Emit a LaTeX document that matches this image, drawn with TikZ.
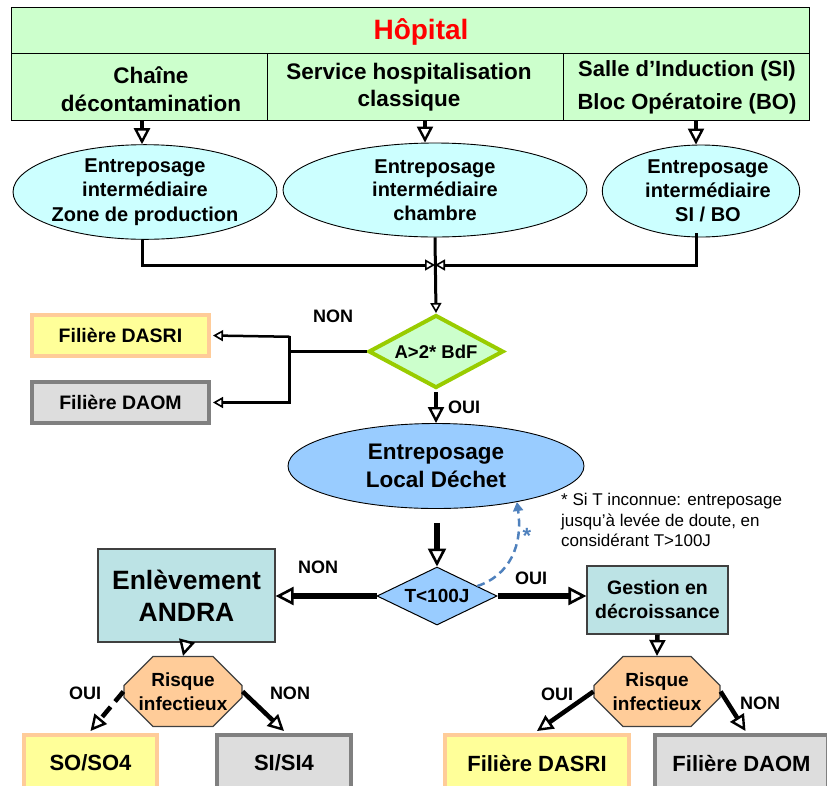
\documentclass[tikz,border=0pt]{standalone}
\usepackage{fontspec}
\setmainfont{Liberation Sans}
\usetikzlibrary{arrows.meta,shapes.geometric,shapes.misc,calc}
\definecolor{hgreen}{HTML}{CCFFCC}
\definecolor{hred}{HTML}{FF0000}
\definecolor{ecyan}{HTML}{CCFFFF}
\definecolor{dgreen}{HTML}{99CC00}
\definecolor{dyellow}{HTML}{FFFF99}
\definecolor{dorange}{HTML}{FFCC99}
\definecolor{dgray}{HTML}{DDDDDD}
\definecolor{dgrayb}{HTML}{808080}
\definecolor{lblue}{HTML}{99CCFF}
\definecolor{teal}{HTML}{BCE3E5}
\definecolor{dblue}{HTML}{4F81BD}
\begin{document}
\begin{tikzpicture}[x=1pt,y=-1pt,font=\bfseries,
  cellbox/.style={draw,fill=hgreen,line width=1pt,inner sep=0pt,minimum height=67pt},
  ell/.style={ellipse,draw,line width=0.9pt,inner sep=0pt,align=center},
  dasribox/.style={draw=dorange,fill=dyellow,line width=4pt,inner sep=0pt},
  daombox/.style={draw=dgrayb,fill=dgray,line width=4pt,inner sep=0pt},
  tealbox/.style={draw=black!75,fill=teal,line width=1.2pt,inner sep=0pt,align=center},
  octo/.style={chamfered rectangle,chamfered rectangle xsep=13pt,chamfered rectangle ysep=16pt,draw=black!75,fill=dorange,line width=1.2pt,inner sep=0pt,align=center,minimum height=51pt,font=\bfseries\fontsize{19}{24}\selectfont},
  lbl/.style={font=\bfseries\fontsize{18}{20}\selectfont,inner sep=0pt},
  harrow/.style={line width=4pt,-{Triangle[fill=white,width=16pt,length=16pt,line width=2.4pt]}},
  marrow/.style={line width=3pt,-{Triangle[fill=white,width=11pt,length=10pt,line width=1.6pt]}},
  mline/.style={line width=3pt},
  tarrow/.style={line width=5.5pt,-{Triangle[fill=white,width=18pt,length=18pt,line width=2.6pt]}},
  sarrow/.style={line width=4.5pt,-{Triangle[fill=white,width=16pt,length=16pt,line width=2.4pt]}},
  farrow/.style={line width=2.5pt,-{Triangle[fill=white,width=11pt,length=10pt,line width=1.6pt]}}
]
\useasboundingbox (0,0) rectangle (827,785);

% header
\node[draw,fill=hgreen,line width=1pt,minimum width=798pt,minimum height=46pt,inner sep=0pt] (hop) at (410,30) {};
\node[text=hred,font=\bfseries\fontsize{28}{32}\selectfont] (hopt) at (421,32) {Hôpital};
\node[cellbox,minimum width=256pt] (c1) at (139,86.5) {};
\node[cellbox,minimum width=296pt] (c2) at (415,86.5) {};
\node[cellbox,minimum width=246pt] (c3) at (686,86.5) {};
\node[align=center,font=\bfseries\fontsize{22.5}{28}\selectfont] (t1) at (151,89) {Chaîne\\décontamination};
\node[align=center,font=\bfseries\fontsize{22.5}{27}\selectfont] (t2) at (409,87) {Service hospitalisation\\classique};
\node[align=center,font=\bfseries\fontsize{22}{33}\selectfont] (t3) at (687,87) {Salle d’Induction (SI)\\Bloc Opératoire (BO)};

% intermediate storage
\node[ell,fill=ecyan,minimum width=242pt,minimum height=92pt,font=\bfseries\fontsize{20}{24.5}\selectfont] (e1) at (145,192) {Entreposage\\intermédiaire\\Zone de production};
\node[ell,fill=ecyan,minimum width=304pt,minimum height=94pt,font=\bfseries\fontsize{20}{23.5}\selectfont] (e2) at (435,190) {Entreposage\\intermédiaire\\chambre};
\node[ell,fill=ecyan,minimum width=184pt,minimum height=92pt,font=\bfseries\fontsize{20}{24}\selectfont] (e3) at (701,191) {\hspace*{14pt}Entreposage\\\hspace*{14pt}intermédiaire\\\hspace*{14pt}SI / BO};

\coordinate (a1) at ([xshift=-3pt]e1.north);
\coordinate (a2) at ([xshift=-10pt]e2.north);
\coordinate (a3) at ([xshift=-5pt]e3.north);
\draw[harrow] (c1.south -| a1) -- (a1);
\draw[harrow] (c2.south -| a2) -- (a2);
\draw[harrow] (c3.south -| a3) -- (a3);

% merge
\coordinate (jn) at (435,265);
\coordinate (b1) at ([xshift=-3pt]e1.south);
\coordinate (b3) at ([xshift=-5pt,yshift=4pt]e3.south);
\draw[marrow] (b1) |- (jn);
\draw[marrow] (b3) |- (jn);

% decision 1
\node[diamond,aspect=1.8,draw=dgreen,fill=hgreen,line width=4pt,minimum width=135pt,minimum height=73pt,inner sep=0pt,font=\bfseries\fontsize{18.5}{20}\selectfont] (d1) at (436,351.5) {A>2* BdF};
\draw[marrow] (e2.south) -- (d1.north);
\node[dasribox,minimum width=177pt,minimum height=41pt,font=\bfseries\fontsize{19.5}{22}\selectfont] (fd1) at (120.5,335.5) {Filière DASRI};
\node[daombox,minimum width=177pt,minimum height=41pt,font=\bfseries\fontsize{19.5}{22}\selectfont] (fa1) at (120.5,402.5) {Filière DAOM};
\coordinate (sp) at ($(d1.west)+(-77,0)$);
\draw[mline] (d1.west) -- (sp);
\draw[farrow] ([yshift=-1.25pt]sp |- fd1.east) -- ([xshift=2pt]fd1.east);
\draw[farrow] (sp |- fd1.east) -- (sp |- fa1.east) -- ([xshift=2pt]fa1.east);
\node[lbl] (non1) at (333,316) {NON};

% local dechet
\node[ell,fill=lblue,minimum width=296pt,minimum height=85pt,font=\bfseries\fontsize{22.5}{28}\selectfont] (led) at (436,466) {Entreposage\\Local Déchet};
\draw[sarrow] ([yshift=-2pt]d1.south) -- (led.north);
\node[lbl] (oui1) at (464,407) {OUI};

\node[font=\fontsize{17}{20.5}\selectfont\mdseries,align=left,anchor=west,inner sep=0pt] (note) at (561,520) {* Si T inconnue: entreposage\\jusqu’à levée de doute, en\\considérant T>100J};

% decision 2
\node[diamond,aspect=2,draw,fill=lblue,line width=1pt,minimum width=120pt,minimum height=58pt,inner sep=0pt,font=\bfseries\fontsize{19}{22}\selectfont] (t100) at (437,596) {T<100J};
\draw[tarrow] ([yshift=-14pt]led.south -| t100.north) -- (t100.north);

\coordinate (cs) at ($(t100.north east)!0.33!(t100.east)$);
\draw[dblue,line width=2.5pt,dash pattern=on 8pt off 5pt,-{Triangle[width=10pt,length=9pt]}] (cs) .. controls (510,575) and (523,545) .. (led.-24);
\node[text=dblue,font=\bfseries\fontsize{22}{24}\selectfont,inner sep=0pt] (ast) at (527,536) {*};

\node[tealbox,minimum width=177pt,minimum height=93pt,font=\bfseries\fontsize{26.5}{32}\selectfont] (andra) at (186.5,595.5) {Enlèvement\\ANDRA};
\node[tealbox,minimum width=141pt,minimum height=68pt,font=\bfseries\fontsize{19.5}{24}\selectfont] (gest) at (657.5,600) {Gestion en\\décroissance};
\draw[tarrow] (t100.west) -- (t100.west -| andra.east);
\draw[tarrow] (t100.east) -- (t100.east -| gest.west);
\node[lbl] (non2) at (318,567) {NON};
\node[lbl] (oui2) at (531,578) {OUI};

% risque
\node[octo,minimum width=118pt] (octL) at (183,691.5) {Risque\\infectieux};
\node[octo,minimum width=126pt] (octR) at (657,691.5) {Risque\\infectieux};
\draw[sarrow] (andra.south) -- (octL.north);
\draw[sarrow] (gest.south) -- (octR.north);

% bottom boxes
\node[dasribox,minimum width=133pt,minimum height=58pt,font=\bfseries\fontsize{22}{24}\selectfont] (so) at (90.5,764) {\raisebox{2pt}{SO/SO4}};
\node[daombox,minimum width=134pt,minimum height=58pt,font=\bfseries\fontsize{22}{24}\selectfont] (si) at (284,764) {\raisebox{2pt}{SI/SI4}};
\node[dasribox,minimum width=184pt,minimum height=58pt,font=\bfseries\fontsize{22}{24}\selectfont] (fd2) at (537,764) {\raisebox{2pt}{Filière DASRI}};
\node[daombox,minimum width=173pt,minimum height=58pt,font=\bfseries\fontsize{22}{24}\selectfont] (fa2) at (741.5,764) {\raisebox{2pt}{Filière DAOM}};

\draw[sarrow,dash pattern=on 13pt off 7pt] (octL.west) -- ([yshift=2pt]so.north);
\draw[sarrow] (octL.east) -- ([yshift=2pt]si.north);
\draw[sarrow] (octR.west) -- ([yshift=2pt]fd2.north);
\draw[sarrow] (octR.east) -- ([xshift=4pt,yshift=2pt]fa2.north);
\node[lbl] (oui3) at (85,693) {OUI};
\node[lbl] (non3) at (290,693) {NON};
\node[lbl] (oui4) at (557,694) {OUI};
\node[lbl] (non4) at (760,703) {NON};
\end{tikzpicture}
\end{document}
